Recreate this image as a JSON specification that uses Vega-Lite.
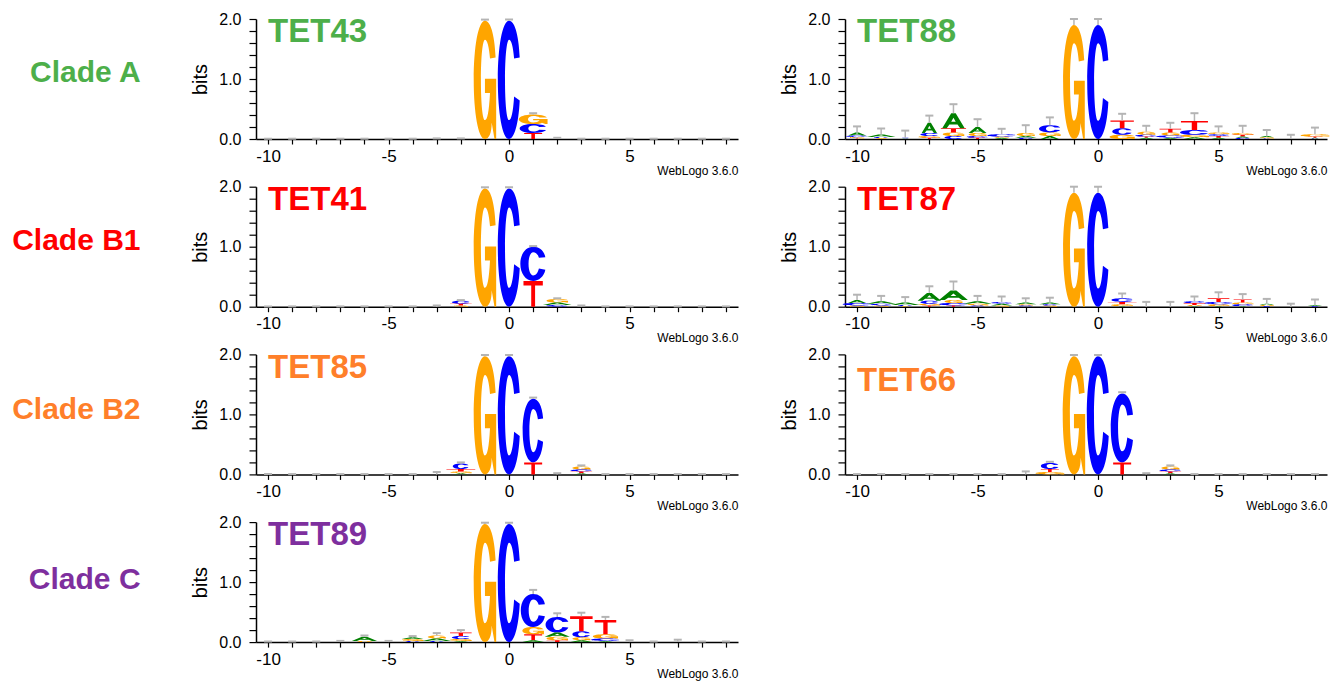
{
  "$schema": "https://vega.github.io/schema/vega-lite/v6.json",
  "padding": {"left": 12, "top": 11, "right": 5, "bottom": 5},
  "data": {"values": [
    {"logo":"TET43","pos":-1,"letter":"G","bits":1.97},
    {"logo":"TET43","pos":0,"letter":"C","bits":1.97},
    {"logo":"TET43","pos":1,"letter":"G","bits":0.16},
    {"logo":"TET43","pos":1,"letter":"C","bits":0.15},
    {"logo":"TET43","pos":1,"letter":"T","bits":0.1},

    {"logo":"TET41","pos":-1,"letter":"G","bits":1.97},
    {"logo":"TET41","pos":0,"letter":"C","bits":1.97},
    {"logo":"TET41","pos":1,"letter":"C","bits":0.57},
    {"logo":"TET41","pos":1,"letter":"T","bits":0.43},
    {"logo":"TET41","pos":-2,"letter":"C","bits":0.05},
    {"logo":"TET41","pos":-2,"letter":"T","bits":0.03},
    {"logo":"TET41","pos":-2,"letter":"G","bits":0.02},
    {"logo":"TET41","pos":2,"letter":"G","bits":0.06},
    {"logo":"TET41","pos":2,"letter":"A","bits":0.04},
    {"logo":"TET41","pos":2,"letter":"C","bits":0.03},

    {"logo":"TET85","pos":-1,"letter":"G","bits":1.97},
    {"logo":"TET85","pos":0,"letter":"C","bits":1.97},
    {"logo":"TET85","pos":1,"letter":"C","bits":1.06},
    {"logo":"TET85","pos":1,"letter":"T","bits":0.2},
    {"logo":"TET85","pos":-2,"letter":"C","bits":0.09},
    {"logo":"TET85","pos":-2,"letter":"T","bits":0.04},
    {"logo":"TET85","pos":-2,"letter":"G","bits":0.03},
    {"logo":"TET85","pos":-2,"letter":"A","bits":0.02},
    {"logo":"TET85","pos":3,"letter":"G","bits":0.05},
    {"logo":"TET85","pos":3,"letter":"T","bits":0.03},
    {"logo":"TET85","pos":3,"letter":"C","bits":0.03},
    {"logo":"TET85","pos":3,"letter":"A","bits":0.02},

    {"logo":"TET89","pos":-1,"letter":"G","bits":1.97},
    {"logo":"TET89","pos":0,"letter":"C","bits":1.97},
    {"logo":"TET89","pos":1,"letter":"C","bits":0.55},
    {"logo":"TET89","pos":1,"letter":"G","bits":0.12},
    {"logo":"TET89","pos":1,"letter":"T","bits":0.1},
    {"logo":"TET89","pos":1,"letter":"A","bits":0.03},
    {"logo":"TET89","pos":2,"letter":"C","bits":0.26},
    {"logo":"TET89","pos":2,"letter":"A","bits":0.07},
    {"logo":"TET89","pos":2,"letter":"G","bits":0.06},
    {"logo":"TET89","pos":2,"letter":"T","bits":0.03},
    {"logo":"TET89","pos":3,"letter":"T","bits":0.25},
    {"logo":"TET89","pos":3,"letter":"C","bits":0.1},
    {"logo":"TET89","pos":3,"letter":"G","bits":0.05},
    {"logo":"TET89","pos":3,"letter":"A","bits":0.03},
    {"logo":"TET89","pos":4,"letter":"T","bits":0.24},
    {"logo":"TET89","pos":4,"letter":"G","bits":0.07},
    {"logo":"TET89","pos":4,"letter":"C","bits":0.04},
    {"logo":"TET89","pos":4,"letter":"A","bits":0.02},
    {"logo":"TET89","pos":-2,"letter":"T","bits":0.06},
    {"logo":"TET89","pos":-2,"letter":"C","bits":0.05},
    {"logo":"TET89","pos":-2,"letter":"G","bits":0.03},
    {"logo":"TET89","pos":-2,"letter":"A","bits":0.02},
    {"logo":"TET89","pos":-3,"letter":"G","bits":0.05},
    {"logo":"TET89","pos":-3,"letter":"A","bits":0.04},
    {"logo":"TET89","pos":-3,"letter":"C","bits":0.02},
    {"logo":"TET89","pos":-4,"letter":"G","bits":0.03},
    {"logo":"TET89","pos":-4,"letter":"A","bits":0.03},
    {"logo":"TET89","pos":-4,"letter":"C","bits":0.02},
    {"logo":"TET89","pos":-6,"letter":"A","bits":0.07},
    {"logo":"TET89","pos":-6,"letter":"G","bits":0.02},

    {"logo":"TET88","pos":-1,"letter":"G","bits":1.9},
    {"logo":"TET88","pos":0,"letter":"C","bits":1.9},
    {"logo":"TET88","pos":-10,"letter":"A","bits":0.05},
    {"logo":"TET88","pos":-10,"letter":"C","bits":0.03},
    {"logo":"TET88","pos":-10,"letter":"G","bits":0.02},
    {"logo":"TET88","pos":-10,"letter":"T","bits":0.01},
    {"logo":"TET88","pos":-9,"letter":"A","bits":0.04},
    {"logo":"TET88","pos":-9,"letter":"C","bits":0.02},
    {"logo":"TET88","pos":-9,"letter":"G","bits":0.015},
    {"logo":"TET88","pos":-8,"letter":"A","bits":0.01},
    {"logo":"TET88","pos":-8,"letter":"C","bits":0.01},
    {"logo":"TET88","pos":-7,"letter":"A","bits":0.17},
    {"logo":"TET88","pos":-7,"letter":"C","bits":0.05},
    {"logo":"TET88","pos":-7,"letter":"G","bits":0.03},
    {"logo":"TET88","pos":-7,"letter":"T","bits":0.02},
    {"logo":"TET88","pos":-6,"letter":"A","bits":0.25},
    {"logo":"TET88","pos":-6,"letter":"T","bits":0.07},
    {"logo":"TET88","pos":-6,"letter":"G","bits":0.06},
    {"logo":"TET88","pos":-6,"letter":"C","bits":0.05},
    {"logo":"TET88","pos":-5,"letter":"A","bits":0.1},
    {"logo":"TET88","pos":-5,"letter":"G","bits":0.05},
    {"logo":"TET88","pos":-5,"letter":"C","bits":0.03},
    {"logo":"TET88","pos":-5,"letter":"T","bits":0.02},
    {"logo":"TET88","pos":-4,"letter":"C","bits":0.04},
    {"logo":"TET88","pos":-4,"letter":"A","bits":0.02},
    {"logo":"TET88","pos":-4,"letter":"G","bits":0.02},
    {"logo":"TET88","pos":-3,"letter":"G","bits":0.05},
    {"logo":"TET88","pos":-3,"letter":"A","bits":0.03},
    {"logo":"TET88","pos":-3,"letter":"C","bits":0.02},
    {"logo":"TET88","pos":-2,"letter":"C","bits":0.12},
    {"logo":"TET88","pos":-2,"letter":"G","bits":0.06},
    {"logo":"TET88","pos":-2,"letter":"A","bits":0.05},
    {"logo":"TET88","pos":1,"letter":"T","bits":0.13},
    {"logo":"TET88","pos":1,"letter":"C","bits":0.11},
    {"logo":"TET88","pos":1,"letter":"G","bits":0.07},
    {"logo":"TET88","pos":2,"letter":"G","bits":0.05},
    {"logo":"TET88","pos":2,"letter":"C","bits":0.03},
    {"logo":"TET88","pos":2,"letter":"A","bits":0.02},
    {"logo":"TET88","pos":2,"letter":"T","bits":0.02},
    {"logo":"TET88","pos":3,"letter":"T","bits":0.06},
    {"logo":"TET88","pos":3,"letter":"G","bits":0.05},
    {"logo":"TET88","pos":3,"letter":"C","bits":0.04},
    {"logo":"TET88","pos":3,"letter":"A","bits":0.02},
    {"logo":"TET88","pos":4,"letter":"T","bits":0.15},
    {"logo":"TET88","pos":4,"letter":"C","bits":0.08},
    {"logo":"TET88","pos":4,"letter":"G","bits":0.04},
    {"logo":"TET88","pos":4,"letter":"A","bits":0.03},
    {"logo":"TET88","pos":5,"letter":"T","bits":0.03},
    {"logo":"TET88","pos":5,"letter":"C","bits":0.03},
    {"logo":"TET88","pos":5,"letter":"G","bits":0.03},
    {"logo":"TET88","pos":5,"letter":"A","bits":0.02},
    {"logo":"TET88","pos":6,"letter":"T","bits":0.03},
    {"logo":"TET88","pos":6,"letter":"G","bits":0.03},
    {"logo":"TET88","pos":6,"letter":"C","bits":0.02},
    {"logo":"TET88","pos":6,"letter":"A","bits":0.02},
    {"logo":"TET88","pos":7,"letter":"G","bits":0.02},
    {"logo":"TET88","pos":7,"letter":"A","bits":0.02},
    {"logo":"TET88","pos":7,"letter":"C","bits":0.01},
    {"logo":"TET88","pos":9,"letter":"G","bits":0.04},
    {"logo":"TET88","pos":9,"letter":"T","bits":0.02},
    {"logo":"TET88","pos":9,"letter":"C","bits":0.01},
    {"logo":"TET88","pos":9,"letter":"A","bits":0.01},

    {"logo":"TET87","pos":-1,"letter":"G","bits":1.9},
    {"logo":"TET87","pos":0,"letter":"C","bits":1.9},
    {"logo":"TET87","pos":-10,"letter":"A","bits":0.05},
    {"logo":"TET87","pos":-10,"letter":"C","bits":0.04},
    {"logo":"TET87","pos":-10,"letter":"G","bits":0.02},
    {"logo":"TET87","pos":-9,"letter":"A","bits":0.04},
    {"logo":"TET87","pos":-9,"letter":"C","bits":0.03},
    {"logo":"TET87","pos":-9,"letter":"G","bits":0.02},
    {"logo":"TET87","pos":-8,"letter":"A","bits":0.04},
    {"logo":"TET87","pos":-8,"letter":"C","bits":0.02},
    {"logo":"TET87","pos":-8,"letter":"G","bits":0.01},
    {"logo":"TET87","pos":-7,"letter":"A","bits":0.13},
    {"logo":"TET87","pos":-7,"letter":"C","bits":0.05},
    {"logo":"TET87","pos":-7,"letter":"G","bits":0.03},
    {"logo":"TET87","pos":-7,"letter":"T","bits":0.02},
    {"logo":"TET87","pos":-6,"letter":"A","bits":0.16},
    {"logo":"TET87","pos":-6,"letter":"G","bits":0.05},
    {"logo":"TET87","pos":-6,"letter":"C","bits":0.04},
    {"logo":"TET87","pos":-6,"letter":"T","bits":0.02},
    {"logo":"TET87","pos":-5,"letter":"A","bits":0.04},
    {"logo":"TET87","pos":-5,"letter":"G","bits":0.03},
    {"logo":"TET87","pos":-5,"letter":"C","bits":0.02},
    {"logo":"TET87","pos":-4,"letter":"A","bits":0.03},
    {"logo":"TET87","pos":-4,"letter":"C","bits":0.03},
    {"logo":"TET87","pos":-4,"letter":"G","bits":0.02},
    {"logo":"TET87","pos":-3,"letter":"A","bits":0.03},
    {"logo":"TET87","pos":-3,"letter":"C","bits":0.02},
    {"logo":"TET87","pos":-3,"letter":"G","bits":0.02},
    {"logo":"TET87","pos":-2,"letter":"A","bits":0.03},
    {"logo":"TET87","pos":-2,"letter":"G","bits":0.02},
    {"logo":"TET87","pos":-2,"letter":"C","bits":0.02},
    {"logo":"TET87","pos":1,"letter":"C","bits":0.06},
    {"logo":"TET87","pos":1,"letter":"T","bits":0.04},
    {"logo":"TET87","pos":1,"letter":"G","bits":0.03},
    {"logo":"TET87","pos":1,"letter":"A","bits":0.01},
    {"logo":"TET87","pos":4,"letter":"T","bits":0.03},
    {"logo":"TET87","pos":4,"letter":"C","bits":0.03},
    {"logo":"TET87","pos":4,"letter":"G","bits":0.02},
    {"logo":"TET87","pos":4,"letter":"A","bits":0.01},
    {"logo":"TET87","pos":5,"letter":"T","bits":0.06},
    {"logo":"TET87","pos":5,"letter":"C","bits":0.04},
    {"logo":"TET87","pos":5,"letter":"G","bits":0.03},
    {"logo":"TET87","pos":5,"letter":"A","bits":0.01},
    {"logo":"TET87","pos":6,"letter":"T","bits":0.05},
    {"logo":"TET87","pos":6,"letter":"C","bits":0.03},
    {"logo":"TET87","pos":6,"letter":"G","bits":0.03},
    {"logo":"TET87","pos":6,"letter":"A","bits":0.01},
    {"logo":"TET87","pos":7,"letter":"G","bits":0.02},
    {"logo":"TET87","pos":7,"letter":"A","bits":0.02},
    {"logo":"TET87","pos":7,"letter":"C","bits":0.01},
    {"logo":"TET87","pos":9,"letter":"A","bits":0.02},
    {"logo":"TET87","pos":9,"letter":"C","bits":0.01},

    {"logo":"TET66","pos":-1,"letter":"G","bits":1.97},
    {"logo":"TET66","pos":0,"letter":"C","bits":1.97},
    {"logo":"TET66","pos":1,"letter":"C","bits":1.15},
    {"logo":"TET66","pos":1,"letter":"T","bits":0.2},
    {"logo":"TET66","pos":-2,"letter":"C","bits":0.1},
    {"logo":"TET66","pos":-2,"letter":"T","bits":0.05},
    {"logo":"TET66","pos":-2,"letter":"G","bits":0.04},
    {"logo":"TET66","pos":3,"letter":"G","bits":0.05},
    {"logo":"TET66","pos":3,"letter":"T","bits":0.03},
    {"logo":"TET66","pos":3,"letter":"C","bits":0.03},
    {"logo":"TET66","pos":3,"letter":"A","bits":0.02},

    {"logo":"TET43","pos":-10,"kind":"e","bits":0.005},{"logo":"TET43","pos":-9,"kind":"e","bits":0.005},{"logo":"TET43","pos":-8,"kind":"e","bits":0.005},{"logo":"TET43","pos":-7,"kind":"e","bits":0.005},{"logo":"TET43","pos":-6,"kind":"e","bits":0.005},{"logo":"TET43","pos":-5,"kind":"e","bits":0.005},{"logo":"TET43","pos":-4,"kind":"e","bits":0.005},{"logo":"TET43","pos":-3,"kind":"e","bits":0.01},{"logo":"TET43","pos":-2,"kind":"e","bits":0.01},{"logo":"TET43","pos":-1,"kind":"e","bits":0.02},{"logo":"TET43","pos":0,"kind":"e","bits":0.02},{"logo":"TET43","pos":1,"kind":"e","bits":0.02},{"logo":"TET43","pos":2,"kind":"e","bits":0.02},{"logo":"TET43","pos":3,"kind":"e","bits":0.005},{"logo":"TET43","pos":4,"kind":"e","bits":0.005},{"logo":"TET43","pos":5,"kind":"e","bits":0.005},{"logo":"TET43","pos":6,"kind":"e","bits":0.005},{"logo":"TET43","pos":7,"kind":"e","bits":0.005},{"logo":"TET43","pos":8,"kind":"e","bits":0.005},{"logo":"TET43","pos":9,"kind":"e","bits":0.005},

    {"logo":"TET41","pos":-10,"kind":"e","bits":0.005},{"logo":"TET41","pos":-9,"kind":"e","bits":0.005},{"logo":"TET41","pos":-8,"kind":"e","bits":0.005},{"logo":"TET41","pos":-7,"kind":"e","bits":0.005},{"logo":"TET41","pos":-6,"kind":"e","bits":0.005},{"logo":"TET41","pos":-5,"kind":"e","bits":0.005},{"logo":"TET41","pos":-4,"kind":"e","bits":0.005},{"logo":"TET41","pos":-3,"kind":"e","bits":0.02},{"logo":"TET41","pos":-2,"kind":"e","bits":0.01},{"logo":"TET41","pos":-1,"kind":"e","bits":0.02},{"logo":"TET41","pos":0,"kind":"e","bits":0.02},{"logo":"TET41","pos":1,"kind":"e","bits":0.01},{"logo":"TET41","pos":2,"kind":"e","bits":0.01},{"logo":"TET41","pos":3,"kind":"e","bits":0.02},{"logo":"TET41","pos":4,"kind":"e","bits":0.005},{"logo":"TET41","pos":5,"kind":"e","bits":0.005},{"logo":"TET41","pos":6,"kind":"e","bits":0.005},{"logo":"TET41","pos":7,"kind":"e","bits":0.005},{"logo":"TET41","pos":8,"kind":"e","bits":0.005},{"logo":"TET41","pos":9,"kind":"e","bits":0.005},

    {"logo":"TET85","pos":-10,"kind":"e","bits":0.005},{"logo":"TET85","pos":-9,"kind":"e","bits":0.005},{"logo":"TET85","pos":-8,"kind":"e","bits":0.005},{"logo":"TET85","pos":-7,"kind":"e","bits":0.005},{"logo":"TET85","pos":-6,"kind":"e","bits":0.005},{"logo":"TET85","pos":-5,"kind":"e","bits":0.005},{"logo":"TET85","pos":-4,"kind":"e","bits":0.005},{"logo":"TET85","pos":-3,"kind":"e","bits":0.04},{"logo":"TET85","pos":-2,"kind":"e","bits":0.02},{"logo":"TET85","pos":-1,"kind":"e","bits":0.02},{"logo":"TET85","pos":0,"kind":"e","bits":0.02},{"logo":"TET85","pos":1,"kind":"e","bits":0.02},{"logo":"TET85","pos":2,"kind":"e","bits":0.02},{"logo":"TET85","pos":3,"kind":"e","bits":0.02},{"logo":"TET85","pos":4,"kind":"e","bits":0.005},{"logo":"TET85","pos":5,"kind":"e","bits":0.005},{"logo":"TET85","pos":6,"kind":"e","bits":0.005},{"logo":"TET85","pos":7,"kind":"e","bits":0.005},{"logo":"TET85","pos":8,"kind":"e","bits":0.005},{"logo":"TET85","pos":9,"kind":"e","bits":0.005},

    {"logo":"TET89","pos":-10,"kind":"e","bits":0.01},{"logo":"TET89","pos":-9,"kind":"e","bits":0.01},{"logo":"TET89","pos":-8,"kind":"e","bits":0.01},{"logo":"TET89","pos":-7,"kind":"e","bits":0.02},{"logo":"TET89","pos":-6,"kind":"e","bits":0.02},{"logo":"TET89","pos":-5,"kind":"e","bits":0.02},{"logo":"TET89","pos":-4,"kind":"e","bits":0.02},{"logo":"TET89","pos":-3,"kind":"e","bits":0.04},{"logo":"TET89","pos":-2,"kind":"e","bits":0.04},{"logo":"TET89","pos":-1,"kind":"e","bits":0.02},{"logo":"TET89","pos":0,"kind":"e","bits":0.02},{"logo":"TET89","pos":1,"kind":"e","bits":0.07},{"logo":"TET89","pos":2,"kind":"e","bits":0.06},{"logo":"TET89","pos":3,"kind":"e","bits":0.06},{"logo":"TET89","pos":4,"kind":"e","bits":0.05},{"logo":"TET89","pos":5,"kind":"e","bits":0.03},{"logo":"TET89","pos":6,"kind":"e","bits":0.01},{"logo":"TET89","pos":7,"kind":"e","bits":0.04},{"logo":"TET89","pos":8,"kind":"e","bits":0.01},{"logo":"TET89","pos":9,"kind":"e","bits":0.01},

    {"logo":"TET88","pos":-10,"kind":"e","bits":0.1},{"logo":"TET88","pos":-9,"kind":"e","bits":0.1},{"logo":"TET88","pos":-8,"kind":"e","bits":0.12},{"logo":"TET88","pos":-7,"kind":"e","bits":0.12},{"logo":"TET88","pos":-6,"kind":"e","bits":0.15},{"logo":"TET88","pos":-5,"kind":"e","bits":0.13},{"logo":"TET88","pos":-4,"kind":"e","bits":0.09},{"logo":"TET88","pos":-3,"kind":"e","bits":0.13},{"logo":"TET88","pos":-2,"kind":"e","bits":0.13},{"logo":"TET88","pos":-1,"kind":"e","bits":0.1},{"logo":"TET88","pos":0,"kind":"e","bits":0.1},{"logo":"TET88","pos":1,"kind":"e","bits":0.11},{"logo":"TET88","pos":2,"kind":"e","bits":0.1},{"logo":"TET88","pos":3,"kind":"e","bits":0.1},{"logo":"TET88","pos":4,"kind":"e","bits":0.13},{"logo":"TET88","pos":5,"kind":"e","bits":0.1},{"logo":"TET88","pos":6,"kind":"e","bits":0.12},{"logo":"TET88","pos":7,"kind":"e","bits":0.1},{"logo":"TET88","pos":8,"kind":"e","bits":0.07},{"logo":"TET88","pos":9,"kind":"e","bits":0.11},

    {"logo":"TET87","pos":-10,"kind":"e","bits":0.09},{"logo":"TET87","pos":-9,"kind":"e","bits":0.09},{"logo":"TET87","pos":-8,"kind":"e","bits":0.09},{"logo":"TET87","pos":-7,"kind":"e","bits":0.11},{"logo":"TET87","pos":-6,"kind":"e","bits":0.15},{"logo":"TET87","pos":-5,"kind":"e","bits":0.09},{"logo":"TET87","pos":-4,"kind":"e","bits":0.09},{"logo":"TET87","pos":-3,"kind":"e","bits":0.07},{"logo":"TET87","pos":-2,"kind":"e","bits":0.08},{"logo":"TET87","pos":-1,"kind":"e","bits":0.1},{"logo":"TET87","pos":0,"kind":"e","bits":0.1},{"logo":"TET87","pos":1,"kind":"e","bits":0.08},{"logo":"TET87","pos":2,"kind":"e","bits":0.08},{"logo":"TET87","pos":3,"kind":"e","bits":0.08},{"logo":"TET87","pos":4,"kind":"e","bits":0.08},{"logo":"TET87","pos":5,"kind":"e","bits":0.1},{"logo":"TET87","pos":6,"kind":"e","bits":0.09},{"logo":"TET87","pos":7,"kind":"e","bits":0.08},{"logo":"TET87","pos":8,"kind":"e","bits":0.05},{"logo":"TET87","pos":9,"kind":"e","bits":0.09},

    {"logo":"TET66","pos":-10,"kind":"e","bits":0.005},{"logo":"TET66","pos":-9,"kind":"e","bits":0.005},{"logo":"TET66","pos":-8,"kind":"e","bits":0.005},{"logo":"TET66","pos":-7,"kind":"e","bits":0.005},{"logo":"TET66","pos":-6,"kind":"e","bits":0.005},{"logo":"TET66","pos":-5,"kind":"e","bits":0.005},{"logo":"TET66","pos":-4,"kind":"e","bits":0.005},{"logo":"TET66","pos":-3,"kind":"e","bits":0.05},{"logo":"TET66","pos":-2,"kind":"e","bits":0.02},{"logo":"TET66","pos":-1,"kind":"e","bits":0.02},{"logo":"TET66","pos":0,"kind":"e","bits":0.02},{"logo":"TET66","pos":1,"kind":"e","bits":0.02},{"logo":"TET66","pos":2,"kind":"e","bits":0.02},{"logo":"TET66","pos":3,"kind":"e","bits":0.02},{"logo":"TET66","pos":4,"kind":"e","bits":0.005},{"logo":"TET66","pos":5,"kind":"e","bits":0.005},{"logo":"TET66","pos":6,"kind":"e","bits":0.005},{"logo":"TET66","pos":7,"kind":"e","bits":0.005},{"logo":"TET66","pos":8,"kind":"e","bits":0.005},{"logo":"TET66","pos":9,"kind":"e","bits":0.005}
  ]},
  "transform": [
    {"stack": "bits", "groupby": ["logo", "pos"], "sort": [{"field": "kind", "order": "ascending"}, {"field": "bits", "order": "ascending"}], "as": ["b0", "b1"]}
  ],
  "facet": {"field": "logo", "type": "nominal", "sort": ["TET43", "TET88", "TET41", "TET87", "TET85", "TET66", "TET89"], "title": null,
    "header": {"labels": false, "title": null, "labelExpr": "''", "labelFontSize": 0, "labelPadding": 0}},
  "columns": 2,
  "spacing": {"row": 47.7, "column": 107},
  "bounds": "flush",
  "resolve": {"axis": {"x": "independent", "y": "independent"}},
  "spec": {
    "width": 482,
    "height": 120,
    "encoding": {
      "x": {"field": "pos", "type": "quantitative", "title": "WebLogo 3.6.0",
        "scale": {"domain": [-10.5, 9.5], "nice": false, "zero": false},
        "axis": {"values": [-10,-9,-8,-7,-6,-5,-4,-3,-2,-1,0,1,2,3,4,5,6,7,8,9],
          "labelExpr": "datum.value % 5 === 0 ? '' + datum.value : ''",
          "titleAnchor": "end", "titleFontSize": 12, "titleFontWeight": "normal", "titlePadding": 1,
          "labelFontSize": 17, "labelPadding": 4, "tickSize": 5, "labelOverlap": false, "labelFlush": false, "grid": false}},
      "y": {"field": "b1", "type": "quantitative", "title": "bits",
        "scale": {"domain": [0, 2], "nice": false, "zero": true},
        "axis": {"values": [0, 0.2, 0.4, 0.6, 0.8, 1, 1.2, 1.4, 1.6, 1.8, 2],
          "labelExpr": "datum.value % 1 === 0 ? format(datum.value, '.1f') : ''",
          "titleFontSize": 20, "titleFontWeight": "normal", "titlePadding": 8,
          "labelFontSize": 16, "labelPadding": 8, "tickSize": 7, "labelOverlap": false, "grid": false}}
    },
    "layer": [
      {
        "transform": [{"filter": {"field": "letter", "equal": "G"}}],
        "mark": {"type": "point", "filled": true, "opacity": 1, "color": "#FFA500", "strokeWidth": 0},
        "encoding": {
          "size": {"field": "bits", "type": "quantitative", "scale": {"type": "pow", "exponent": 2, "domain": [0, 2], "range": [0, 14400]}, "legend": null},
          "shape": {"condition": [
            {"test": "datum.bits < 0.042", "value": "M11.4 0.62C10.2 0.2 5.4 0 0 0C-7.2 0 -12 0.45 -12 1C-12 1.55 -7.2 2 0 2C4.32 2 7.2 1.9 7.2 1.72L10.2 2L12 2L12 0.98L0 0.98L0 1.22L5.4 1.22C4.32 1.55 2.4 1.68 0 1.68C-2.4 1.68 -4.32 1.4 -4.32 1C-4.32 0.6 -2.4 0.32 0 0.32C2.4 0.32 4.32 0.43 5.4 0.64Z"},
            {"test": "datum.bits < 0.085", "value": "M5.7 0.62C5.1 0.2 2.7 0 0 0C-3.6 0 -6 0.45 -6 1C-6 1.55 -3.6 2 0 2C2.16 2 3.6 1.9 3.6 1.72L5.1 2L6 2L6 0.98L0 0.98L0 1.22L2.7 1.22C2.16 1.55 1.2 1.68 0 1.68C-1.2 1.68 -2.16 1.4 -2.16 1C-2.16 0.6 -1.2 0.32 0 0.32C1.2 0.32 2.16 0.43 2.7 0.64Z"},
            {"test": "datum.bits < 0.17", "value": "M2.85 0.62C2.55 0.2 1.35 0 0 0C-1.8 0 -3 0.45 -3 1C-3 1.55 -1.8 2 0 2C1.08 2 1.8 1.9 1.8 1.72L2.55 2L3 2L3 0.98L0 0.98L0 1.22L1.35 1.22C1.08 1.55 0.6 1.68 0 1.68C-0.6 1.68 -1.08 1.4 -1.08 1C-1.08 0.6 -0.6 0.32 0 0.32C0.6 0.32 1.08 0.43 1.35 0.64Z"},
            {"test": "datum.bits < 0.35", "value": "M1.425 0.62C1.275 0.2 0.675 0 0 0C-0.9 0 -1.5 0.45 -1.5 1C-1.5 1.55 -0.9 2 0 2C0.54 2 0.9 1.9 0.9 1.72L1.275 2L1.5 2L1.5 0.98L0 0.98L0 1.22L0.675 1.22C0.54 1.55 0.3 1.68 0 1.68C-0.3 1.68 -0.54 1.4 -0.54 1C-0.54 0.6 -0.3 0.32 0 0.32C0.3 0.32 0.54 0.43 0.675 0.64Z"},
            {"test": "datum.bits < 0.7", "value": "M0.7125 0.62C0.6375 0.2 0.3375 0 0 0C-0.45 0 -0.75 0.45 -0.75 1C-0.75 1.55 -0.45 2 0 2C0.27 2 0.45 1.9 0.45 1.72L0.6375 2L0.75 2L0.75 0.98L0 0.98L0 1.22L0.3375 1.22C0.27 1.55 0.15 1.68 0 1.68C-0.15 1.68 -0.27 1.4 -0.27 1C-0.27 0.6 -0.15 0.32 0 0.32C0.15 0.32 0.27 0.43 0.3375 0.64Z"},
            {"test": "datum.bits < 1.5", "value": "M0.3135 0.62C0.2805 0.2 0.1485 0 0 0C-0.198 0 -0.33 0.45 -0.33 1C-0.33 1.55 -0.198 2 0 2C0.1188 2 0.198 1.9 0.198 1.72L0.2805 2L0.33 2L0.33 0.98L0 0.98L0 1.22L0.1485 1.22C0.1188 1.55 0.066 1.68 0 1.68C-0.066 1.68 -0.1188 1.4 -0.1188 1C-0.1188 0.6 -0.066 0.32 0 0.32C0.066 0.32 0.1188 0.43 0.1485 0.64Z"}
          ], "value": "M0.1805 0.62C0.1615 0.2 0.0855 0 0 0C-0.114 0 -0.19 0.45 -0.19 1C-0.19 1.55 -0.114 2 0 2C0.0684 2 0.114 1.9 0.114 1.72L0.1615 2L0.19 2L0.19 0.98L0 0.98L0 1.22L0.0855 1.22C0.0684 1.55 0.038 1.68 0 1.68C-0.038 1.68 -0.0684 1.4 -0.0684 1C-0.0684 0.6 -0.038 0.32 0 0.32C0.038 0.32 0.0684 0.43 0.0855 0.64Z"}
        }
      },
      {
        "transform": [{"filter": {"field": "letter", "equal": "C"}}],
        "mark": {"type": "point", "filled": true, "opacity": 1, "color": "#0000FF", "strokeWidth": 0},
        "encoding": {
          "size": {"field": "bits", "type": "quantitative", "scale": {"type": "pow", "exponent": 2, "domain": [0, 2], "range": [0, 14400]}, "legend": null},
          "shape": {"condition": [
            {"test": "datum.bits < 0.042", "value": "M11.4 0.62C10.2 0.2 5.4 0 0 0C-7.2 0 -12 0.45 -12 1C-12 1.55 -7.2 2 0 2C5.4 2 10.2 1.75 11.4 1.35L5.4 1.28C4.32 1.55 2.4 1.68 0 1.68C-2.4 1.68 -4.32 1.4 -4.32 1C-4.32 0.6 -2.4 0.32 0 0.32C2.4 0.32 4.32 0.43 5.4 0.64Z"},
            {"test": "datum.bits < 0.085", "value": "M5.7 0.62C5.1 0.2 2.7 0 0 0C-3.6 0 -6 0.45 -6 1C-6 1.55 -3.6 2 0 2C2.7 2 5.1 1.75 5.7 1.35L2.7 1.28C2.16 1.55 1.2 1.68 0 1.68C-1.2 1.68 -2.16 1.4 -2.16 1C-2.16 0.6 -1.2 0.32 0 0.32C1.2 0.32 2.16 0.43 2.7 0.64Z"},
            {"test": "datum.bits < 0.17", "value": "M2.85 0.62C2.55 0.2 1.35 0 0 0C-1.8 0 -3 0.45 -3 1C-3 1.55 -1.8 2 0 2C1.35 2 2.55 1.75 2.85 1.35L1.35 1.28C1.08 1.55 0.6 1.68 0 1.68C-0.6 1.68 -1.08 1.4 -1.08 1C-1.08 0.6 -0.6 0.32 0 0.32C0.6 0.32 1.08 0.43 1.35 0.64Z"},
            {"test": "datum.bits < 0.35", "value": "M1.425 0.62C1.275 0.2 0.675 0 0 0C-0.9 0 -1.5 0.45 -1.5 1C-1.5 1.55 -0.9 2 0 2C0.675 2 1.275 1.75 1.425 1.35L0.675 1.28C0.54 1.55 0.3 1.68 0 1.68C-0.3 1.68 -0.54 1.4 -0.54 1C-0.54 0.6 -0.3 0.32 0 0.32C0.3 0.32 0.54 0.43 0.675 0.64Z"},
            {"test": "datum.bits < 0.7", "value": "M0.7125 0.62C0.6375 0.2 0.3375 0 0 0C-0.45 0 -0.75 0.45 -0.75 1C-0.75 1.55 -0.45 2 0 2C0.3375 2 0.6375 1.75 0.7125 1.35L0.3375 1.28C0.27 1.55 0.15 1.68 0 1.68C-0.15 1.68 -0.27 1.4 -0.27 1C-0.27 0.6 -0.15 0.32 0 0.32C0.15 0.32 0.27 0.43 0.3375 0.64Z"},
            {"test": "datum.bits < 1.5", "value": "M0.3135 0.62C0.2805 0.2 0.1485 0 0 0C-0.198 0 -0.33 0.45 -0.33 1C-0.33 1.55 -0.198 2 0 2C0.1485 2 0.2805 1.75 0.3135 1.35L0.1485 1.28C0.1188 1.55 0.066 1.68 0 1.68C-0.066 1.68 -0.1188 1.4 -0.1188 1C-0.1188 0.6 -0.066 0.32 0 0.32C0.066 0.32 0.1188 0.43 0.1485 0.64Z"}
          ], "value": "M0.1805 0.62C0.1615 0.2 0.0855 0 0 0C-0.114 0 -0.19 0.45 -0.19 1C-0.19 1.55 -0.114 2 0 2C0.0855 2 0.1615 1.75 0.1805 1.35L0.0855 1.28C0.0684 1.55 0.038 1.68 0 1.68C-0.038 1.68 -0.0684 1.4 -0.0684 1C-0.0684 0.6 -0.038 0.32 0 0.32C0.038 0.32 0.0684 0.43 0.0855 0.64Z"}
        }
      },
      {
        "transform": [{"filter": {"field": "letter", "equal": "T"}}],
        "mark": {"type": "point", "filled": true, "opacity": 1, "color": "#FF0000", "strokeWidth": 0},
        "encoding": {
          "size": {"field": "bits", "type": "quantitative", "scale": {"type": "pow", "exponent": 2, "domain": [0, 2], "range": [0, 14400]}, "legend": null},
          "shape": {"condition": [
            {"test": "datum.bits < 0.042", "value": "M-12 0L12 0L12 0.36L2.4 0.36L2.4 2L-2.4 2L-2.4 0.36L-12 0.36Z"},
            {"test": "datum.bits < 0.085", "value": "M-6 0L6 0L6 0.36L1.2 0.36L1.2 2L-1.2 2L-1.2 0.36L-6 0.36Z"},
            {"test": "datum.bits < 0.17", "value": "M-3 0L3 0L3 0.36L0.6 0.36L0.6 2L-0.6 2L-0.6 0.36L-3 0.36Z"},
            {"test": "datum.bits < 0.35", "value": "M-1.5 0L1.5 0L1.5 0.36L0.3 0.36L0.3 2L-0.3 2L-0.3 0.36L-1.5 0.36Z"},
            {"test": "datum.bits < 0.7", "value": "M-0.75 0L0.75 0L0.75 0.36L0.15 0.36L0.15 2L-0.15 2L-0.15 0.36L-0.75 0.36Z"},
            {"test": "datum.bits < 1.5", "value": "M-0.33 0L0.33 0L0.33 0.36L0.066 0.36L0.066 2L-0.066 2L-0.066 0.36L-0.33 0.36Z"}
          ], "value": "M-0.19 0L0.19 0L0.19 0.36L0.038 0.36L0.038 2L-0.038 2L-0.038 0.36L-0.19 0.36Z"}
        }
      },
      {
        "transform": [{"filter": {"field": "letter", "equal": "A"}}],
        "mark": {"type": "point", "filled": true, "opacity": 1, "color": "#008000", "strokeWidth": 0},
        "encoding": {
          "size": {"field": "bits", "type": "quantitative", "scale": {"type": "pow", "exponent": 2, "domain": [0, 2], "range": [0, 14400]}, "legend": null},
          "shape": {"condition": [
            {"test": "datum.bits < 0.042", "value": "M-2.4 0L2.4 0L12 2L7.2 2L4.32 1.5L-4.32 1.5L-7.2 2L-12 2ZM-2.4 1.15L2.4 1.15L0 0.6Z"},
            {"test": "datum.bits < 0.085", "value": "M-1.2 0L1.2 0L6 2L3.6 2L2.16 1.5L-2.16 1.5L-3.6 2L-6 2ZM-1.2 1.15L1.2 1.15L0 0.6Z"},
            {"test": "datum.bits < 0.17", "value": "M-0.6 0L0.6 0L3 2L1.8 2L1.08 1.5L-1.08 1.5L-1.8 2L-3 2ZM-0.6 1.15L0.6 1.15L0 0.6Z"},
            {"test": "datum.bits < 0.35", "value": "M-0.3 0L0.3 0L1.5 2L0.9 2L0.54 1.5L-0.54 1.5L-0.9 2L-1.5 2ZM-0.3 1.15L0.3 1.15L0 0.6Z"},
            {"test": "datum.bits < 0.7", "value": "M-0.15 0L0.15 0L0.75 2L0.45 2L0.27 1.5L-0.27 1.5L-0.45 2L-0.75 2ZM-0.15 1.15L0.15 1.15L0 0.6Z"},
            {"test": "datum.bits < 1.5", "value": "M-0.066 0L0.066 0L0.33 2L0.198 2L0.1188 1.5L-0.1188 1.5L-0.198 2L-0.33 2ZM-0.066 1.15L0.066 1.15L0 0.6Z"}
          ], "value": "M-0.038 0L0.038 0L0.19 2L0.114 2L0.0684 1.5L-0.0684 1.5L-0.114 2L-0.19 2ZM-0.038 1.15L0.038 1.15L0 0.6Z"}
        }
      },
      {
        "transform": [{"filter": "datum.kind === 'e'"}],
        "mark": {"type": "rule", "color": "#b4b4b4", "strokeWidth": 1.5},
        "encoding": {
          "y": {"field": "b0", "type": "quantitative", "title": "bits"},
          "y2": {"field": "b1"}
        }
      },
      {
        "transform": [{"filter": "datum.kind === 'e'"}],
        "mark": {"type": "tick", "orient": "horizontal", "color": "#b4b4b4", "size": 8, "thickness": 2, "opacity": 1},
        "encoding": {}
      },
      {
        "transform": [{"filter": "datum.kind === 'e' && datum.pos === -10 && datum.logo !== 'TET66'"}],
        "mark": {"type": "text", "align": "left", "baseline": "middle", "fontSize": 33, "fontWeight": "bold", "font": "Liberation Sans"},
        "encoding": {
          "x": {"datum": -10},
          "y": {"datum": 1.78},
          "text": {"field": "logo"},
          "color": {"field": "logo", "type": "nominal", "legend": null,
            "scale": {"domain": ["TET43", "TET88", "TET41", "TET87", "TET85", "TET66", "TET89"], "range": ["#4DAF4A", "#4DAF4A", "#FF0000", "#FF0000", "#FF7F2A", "#FF7F2A", "#7E2F9E"]}}
        }
      },
      {
        "transform": [{"filter": "datum.kind === 'e' && datum.pos === -10 && datum.logo === 'TET66'"}],
        "mark": {"type": "text", "align": "left", "baseline": "middle", "fontSize": 33, "fontWeight": "bold", "font": "Liberation Sans"},
        "encoding": {
          "x": {"datum": -10},
          "y": {"datum": 1.55},
          "text": {"field": "logo"},
          "color": {"field": "logo", "type": "nominal", "legend": null}
        }
      },
      {
        "transform": [{"filter": "datum.kind === 'e' && datum.pos === -10 && datum.logo === 'TET43'"}],
        "mark": {"type": "text", "align": "right", "baseline": "middle", "fontSize": 30, "fontWeight": "bold", "font": "Liberation Sans"},
        "encoding": {
          "x": {"datum": -15.29},
          "y": {"datum": 1.1},
          "text": {"value": "Clade A"},
          "color": {"field": "logo", "type": "nominal", "legend": null}
        }
      },
      {
        "transform": [{"filter": "datum.kind === 'e' && datum.pos === -10 && datum.logo === 'TET41'"}],
        "mark": {"type": "text", "align": "right", "baseline": "middle", "fontSize": 30, "fontWeight": "bold", "font": "Liberation Sans"},
        "encoding": {
          "x": {"datum": -15.29},
          "y": {"datum": 1.1},
          "text": {"value": "Clade B1"},
          "color": {"field": "logo", "type": "nominal", "legend": null}
        }
      },
      {
        "transform": [{"filter": "datum.kind === 'e' && datum.pos === -10 && datum.logo === 'TET85'"}],
        "mark": {"type": "text", "align": "right", "baseline": "middle", "fontSize": 30, "fontWeight": "bold", "font": "Liberation Sans"},
        "encoding": {
          "x": {"datum": -15.29},
          "y": {"datum": 1.08},
          "text": {"value": "Clade B2"},
          "color": {"field": "logo", "type": "nominal", "legend": null}
        }
      },
      {
        "transform": [{"filter": "datum.kind === 'e' && datum.pos === -10 && datum.logo === 'TET89'"}],
        "mark": {"type": "text", "align": "right", "baseline": "middle", "fontSize": 30, "fontWeight": "bold", "font": "Liberation Sans"},
        "encoding": {
          "x": {"datum": -15.29},
          "y": {"datum": 1.03},
          "text": {"value": "Clade C"},
          "color": {"field": "logo", "type": "nominal", "legend": null}
        }
      }
    ]
  },
  "config": {
    "font": "Liberation Sans",
    "view": {"stroke": null},
    "header": {"labels": false, "title": null, "labelFontSize": 0, "labelPadding": 0},
    "headerFacet": {"labels": false, "title": null, "labelFontSize": 0, "labelPadding": 0},
    "axis": {"domainColor": "#000000", "tickColor": "#000000", "labelColor": "#000000", "titleColor": "#000000", "labelFont": "Liberation Sans", "titleFont": "Liberation Sans", "domainWidth": 1.5, "tickWidth": 1.2}
  }
}
